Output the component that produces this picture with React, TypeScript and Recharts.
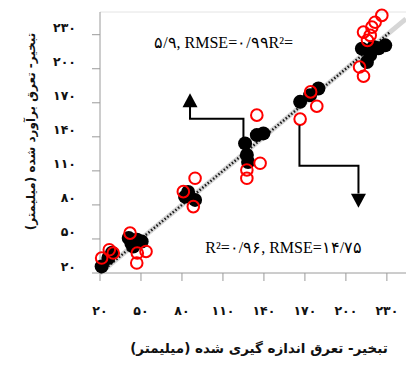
import React from "react";
import {
  ComposedChart,
  XAxis,
  YAxis,
  Scatter,
  ReferenceLine,
  Label,
} from "recharts";

// ---- data ----
const tickValues = [20, 50, 80, 110, 140, 170, 200, 230];
const tickLabels = ["۲۰", "۵۰", "۸۰", "۱۱۰", "۱۴۰", "۱۷۰", "۲۰۰", "۲۳۰"];

const xTitle = "تبخیر- تعرق اندازه گیری شده (میلیمتر)";
const yTitle = "تبخیر- تعرق برآورد شده (میلیمتر)";

// black filled points (measured vs estimated, set 1)
const blackX = [21.2, 26.1, 28.8, 41, 44.4, 47.1, 50.5, 43, 82.3, 84.5, 89.6, 126.2, 127.5, 128.4, 134.8, 139.6, 166.5, 173.8, 179.9, 211.7, 215.4, 217.8, 220.2, 228.8, 224];
const blackY = [25.8, 33.2, 37.8, 50.8, 43.4, 49.3, 47.8, 46, 87.3, 91.4, 84.4, 134.2, 124, 117.8, 141.5, 143, 170.8, 176.7, 182.6, 217.7, 206, 212.1, 219.1, 220.6, 218];

// red hollow points (set 2)
const redX = [21.2, 26.8, 29.7, 42, 47.3, 46.9, 53.7, 81, 89.6, 88.3, 134.8, 137.2, 127.5, 127.5, 174.2, 178.7, 166.5, 226.3, 221.4, 219, 212.9, 217.8, 215.8, 210, 212.9];
const redY = [33.2, 40.5, 37.6, 55.1, 37.6, 28.8, 39, 91.7, 103.5, 78.5, 159.1, 116.7, 110.8, 103.5, 179.6, 167, 155.6, 247, 241, 236.7, 232.3, 229.4, 225, 201.5, 193.4];

// 1:1 line
const diagFrom = 20;
const diagTo = 244;
const dotTo = 232;

// annotation texts
const annX = [110.5, 154.5];
const annY = [223.3, 42.2];
const annText = ["۵/۹, RMSE=۰/۹۹R²=", "R²=۰/۹۶, RMSE=۱۴/۷۵"];

// arrows (polyline + head tip)
const arrow1X = [125, 125, 85.9, 85.9];
const arrow1Y = [137, 155.9, 155.9, 167];
const arrow2X = [166, 166, 209.2, 209.2];
const arrow2Y = [150.3, 114.6, 114.6, 90];
const headX = [85.9, 209.2];
const headY = [178.4, 77.4];
const headDir = ["up", "down"];

const blackData = blackX.map((x, i) => ({ x, y: blackY[i] }));
const redData = redX.map((x, i) => ({ x, y: redY[i] }));
const annData = annX.map((x, i) => ({ x, y: annY[i], t: annText[i] }));
const arrow1Data = arrow1X.map((x, i) => ({ x, y: arrow1Y[i] }));
const arrow2Data = arrow2X.map((x, i) => ({ x, y: arrow2Y[i] }));
const headData = headX.map((x, i) => ({ x, y: headY[i], d: headDir[i] }));

const persianFont = "'DejaVu Sans', 'Noto Sans', sans-serif";

const XTick = (props: any) => {
  const { x, y, payload } = props;
  const i = tickValues.indexOf(payload.value);
  return (
    <text x={x} y={y + 32} textAnchor="middle" fontFamily={persianFont} fontWeight="bold" fontSize={12.5} fill="#111">
      {tickLabels[i]}
    </text>
  );
};

const YTick = (props: any) => {
  const { x, y, payload } = props;
  const i = tickValues.indexOf(payload.value);
  return (
    <text x={x - 14} y={y - 2.5} textAnchor="end" fontFamily={persianFont} fontWeight="bold" fontSize={12.5} fill="#111">
      {tickLabels[i]}
    </text>
  );
};

const BlackDot = (p: any) => <circle cx={p.cx} cy={p.cy} r={7} fill="#000" />;
const RedRing = (p: any) => (
  <circle cx={p.cx} cy={p.cy} r={5.8} fill="none" stroke="#ff0000" strokeWidth={2} />
);
const NoShape = () => <g />;
const Head = (p: any) => {
  const { cx, cy } = p;
  const d = p.payload?.d;
  const h = 14;
  const w = 7.5;
  const by = d === "up" ? cy + h : cy - h;
  return <polygon points={`${cx},${cy} ${cx - w},${by} ${cx + w},${by}`} fill="#000" />;
};
const AnnText = (p: any) => (
  <text
    x={p.cx}
    y={p.cy}
    textAnchor="middle"
    dominantBaseline="central"
    direction="ltr"
    fontFamily="'Liberation Serif', 'Times New Roman', serif"
    fontSize={16}
    fill="#000"
  >
    {p.payload?.t}
  </text>
);

export default function App() {
  return (
    <div style={{ position: "absolute", left: 0, top: 0, background: "#fff" }}>
      <ComposedChart width={406} height={365} margin={{ top: 12, right: 0, bottom: 0, left: 0 }}>
        <XAxis
          type="number"
          dataKey="x"
          domain={[20, 244]}
          ticks={tickValues}
          interval={0}
          tickSize={8}
          height={92}
          stroke="#9a9a9a"
          axisLine={{ stroke: "#9a9a9a" }}
          tickLine={{ stroke: "#9a9a9a" }}
          tick={XTick}
        >
          <Label
            content={(lp: any) => {
              const vb = lp.viewBox || {};
              return (
                <text
                  x={(vb.x ?? 100) + (vb.width ?? 306) / 2 + 6}
                  y={353}
                  textAnchor="middle"
                  direction="rtl"
                  fontFamily={persianFont}
                  fontWeight="bold"
                  fontSize={13.5}
                  fill="#111"
                >
                  {xTitle}
                </text>
              );
            }}
          />
        </XAxis>
        <YAxis
          type="number"
          dataKey="y"
          domain={[20, 250]}
          ticks={tickValues}
          interval={0}
          tickSize={8}
          width={100}
          axisLine={{ stroke: "#9a9a9a" }}
          tickLine={{ stroke: "#9a9a9a" }}
          tick={YTick}
        >
          <Label
            content={(lp: any) => {
              const vb = lp.viewBox || {};
              const cy = (vb.y ?? 12) + (vb.height ?? 261) / 2 - 11;
              return (
                <text
                  x={31}
                  y={cy}
                  transform={`rotate(-90, 31, ${cy})`}
                  textAnchor="middle"
                  dominantBaseline="central"
                  direction="rtl"
                  fontFamily={persianFont}
                  fontWeight="bold"
                  fontSize={12}
                  fill="#111"
                >
                  {yTitle}
                </text>
              );
            }}
          />
        </YAxis>
        <ReferenceLine y={250} stroke="#e4e4e4" strokeWidth={1} />
        <ReferenceLine
          segment={[{ x: diagFrom, y: diagFrom }, { x: diagTo, y: diagTo }]}
          stroke="#d6d6d6"
          strokeWidth={5}
        />
        <ReferenceLine
          segment={[{ x: diagFrom, y: diagFrom }, { x: dotTo, y: dotTo }]}
          stroke="#1a1a1a"
          strokeWidth={2.5}
          strokeDasharray="1.5 2"
        />
        <Scatter data={blackData} dataKey="y" shape={BlackDot} isAnimationActive={false} />
        <Scatter data={redData} dataKey="y" shape={RedRing} isAnimationActive={false} />
        <Scatter
          data={arrow1Data}
          dataKey="y"
          shape={NoShape}
          line={{ stroke: "#000", strokeWidth: 2 }}
          isAnimationActive={false}
        />
        <Scatter
          data={arrow2Data}
          dataKey="y"
          shape={NoShape}
          line={{ stroke: "#000", strokeWidth: 2 }}
          isAnimationActive={false}
        />
        <Scatter data={headData} dataKey="y" shape={Head} isAnimationActive={false} />
        <Scatter data={annData} dataKey="y" shape={AnnText} isAnimationActive={false} />
      </ComposedChart>
    </div>
  );
}
